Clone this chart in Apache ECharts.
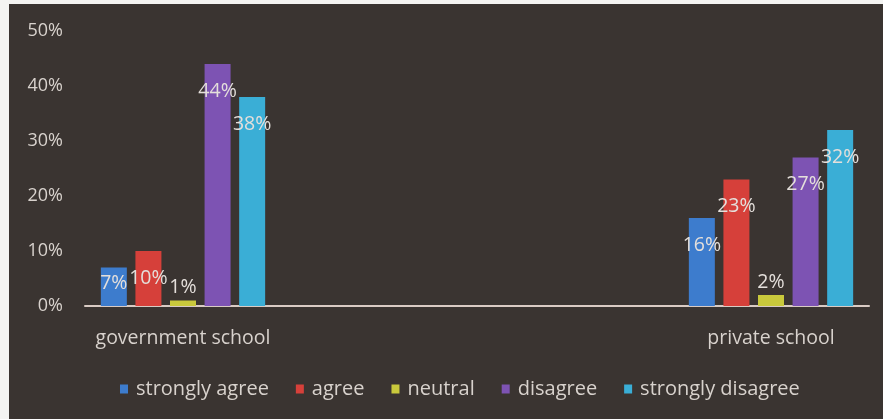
<!DOCTYPE html>
<html>
<head>
<meta charset="utf-8">
<script src="https://cdn.jsdelivr.net/npm/echarts@6/dist/echarts.min.js"></script>
<style>
html,body{margin:0;padding:0;background:#f4f4f2;}
#wrap{position:absolute;left:9px;top:4px;width:874px;height:415px;background:#3a3431;}
#chart{position:absolute;left:0;top:0;width:883px;height:419px;}
</style>
</head>
<body>
<div id="wrap"></div>
<div id="chart"></div>
<script>
const categories = ['government school', '', '', 'private school'];
const seriesNames = ['strongly agree', 'agree', 'neutral', 'disagree', 'strongly disagree'];
const stronglyAgree = [7, null, null, 16];
const agree = [10, null, null, 23];
const neutral = [1, null, null, 2];
const disagree = [44, null, null, 27];
const stronglyDisagree = [38, null, null, 32];
const yTicks = [0, 10, 20, 30, 40, 50];

const values = [stronglyAgree, agree, neutral, disagree, stronglyDisagree];
const colors = ['#3d7ccd', '#d6403a', '#c9c93c', '#7d53b3', '#3aaed6'];
const textColor = '#d8d2cd';
const FONT = 'Open Sans';

const series = seriesNames.map((name, i) => ({
  name: name,
  type: 'bar',
  barWidth: 26,
  barGap: '33%',
  itemStyle: {color: colors[i]},
  data: values[i].map(v => {
    if (v === null) return null;
    let label;
    if (v < 3) label = {position: 'top', distance: 3};
    else if (v < 8) label = {position: 'insideTop', distance: 6};
    else label = {position: 'insideTop', distance: 17};
    return {value: v, label: label};
  }),
  label: {
    show: true,
    color: '#e4dfdb',
    fontSize: 19.5,
    fontFamily: FONT,
    formatter: p => p.value + '%'
  }
}));

const chart = echarts.init(document.getElementById('chart'));
chart.setOption({
  backgroundColor: 'transparent',
  color: colors,
  animation: false,
  grid: {left: 85, right: 14, top: 31, bottom: 113},
  legend: {
    data: seriesNames.map((n, i) => ({name: n, itemStyle: {color: colors[i]}})),
    top: 374,
    left: 115,
    icon: 'rect',
    itemWidth: 8,
    itemHeight: 9,
    itemGap: 27,
    textStyle: {color: textColor, fontSize: 20, fontFamily: FONT, padding: [0, 0, 0, 3]}
  },
  xAxis: {
    type: 'category',
    data: categories,
    axisTick: {show: false},
    axisLine: {lineStyle: {color: '#d9cbc4', width: 2}},
    axisLabel: {color: textColor, fontSize: 19.5, fontFamily: FONT, margin: 22, interval: 0}
  },
  yAxis: {
    type: 'value',
    min: 0,
    max: 50,
    interval: 10,
    axisLine: {show: false},
    axisTick: {show: false},
    splitLine: {show: false},
    axisLabel: {
      color: textColor, fontSize: 18, fontFamily: FONT, margin: 22,
      formatter: v => yTicks.includes(v) ? v + '%' : ''
    }
  },
  series: series
});
</script>
</body>
</html>
